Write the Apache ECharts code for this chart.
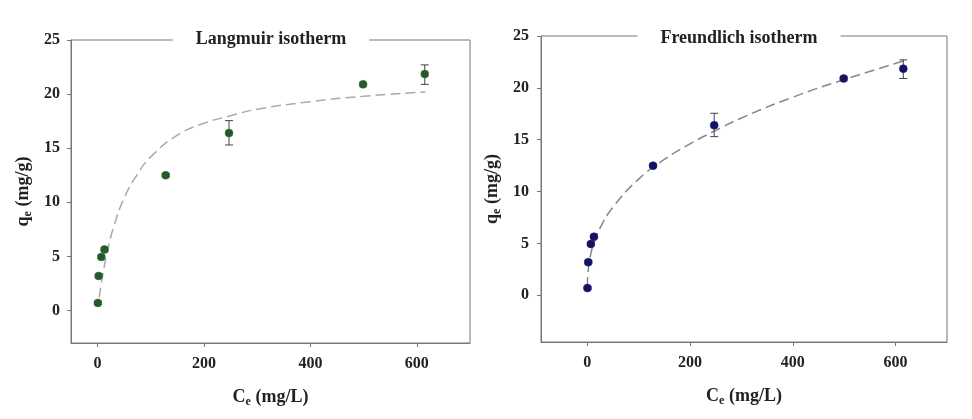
<!DOCTYPE html>
<html>
<head>
<meta charset="utf-8">
<script src="https://cdn.jsdelivr.net/npm/echarts@6/dist/echarts.min.js"></script>
<style>
html,body{margin:0;padding:0;background:#fff;}
#c{width:972px;height:419px;}
</style>
</head>
<body>
<div id="c"></div>
<script>
// Experimental data (same points in both panels)
const ceData = [0.5, 2, 7, 13, 128, 247, 499, 615];
const qeData = [0.7, 3.2, 4.95, 5.65, 12.5, 16.4, 20.9, 21.85];
const errLow = [0.55, 3.05, 4.8, 5.5, 12.35, 15.3, 20.75, 20.9];
const errHigh = [0.85, 3.35, 5.1, 5.8, 12.65, 17.55, 21.05, 22.7];

// Langmuir fitted curve
const langC = [3, 10, 20, 30, 50, 75, 100, 150, 200, 250, 300, 400, 500, 616];
const langQ = [1.2, 3.4, 5.8, 7.7, 10.4, 12.6, 14.2, 16.2, 17.3, 18.0, 18.6, 19.3, 19.8, 20.2];

// Freundlich fitted curve
const freC = [0.1, 0.3, 1, 3, 6, 12, 25, 50, 100, 150, 200, 250, 300, 400, 500, 616];
const freQ = [0.8, 1.2, 1.9, 2.9, 3.8, 4.9, 6.5, 8.5, 11.2, 13.1, 14.6, 15.9, 17.1, 19.1, 20.8, 22.6];

// Tick labels
const xTicks = [0, 200, 400, 600];
const yTicks = [0, 5, 10, 15, 20, 25];

const titles = ['Langmuir isotherm', 'Freundlich isotherm'];

const FONT = "'Liberation Serif','Times New Roman',serif";
const AX = '#777';

const chart = echarts.init(document.getElementById('c'));

function richName() {
  return { rich: {
    c: { fontSize: 18, fontWeight: 'bold', fontFamily: FONT, color: '#222', lineHeight: 22 },
    s: { fontSize: 12, fontWeight: 'bold', fontFamily: FONT, color: '#222', lineHeight: 12, verticalAlign: 'bottom' },
    n: { fontSize: 18, fontWeight: 'bold', fontFamily: FONT, color: '#222', lineHeight: 22 }
  }};
}

function xAxisCfg(idx, min) {
  return {
    type: 'value', gridIndex: idx, min: min, max: 700,
    name: '{c|C}{s|e}{n| (mg/L)}', nameLocation: 'middle', nameGap: 43,
    nameTextStyle: richName(),
    axisLine: { show: true, onZero: false, lineStyle: { color: AX, width: 1 } },
    axisTick: { show: true, length: 4, lineStyle: { color: AX }, customValues: xTicks },
    axisLabel: { customValues: xTicks, fontSize: 16, fontWeight: 'bold', fontFamily: FONT, color: '#222', margin: 13 },
    splitLine: { show: false }
  };
}
function yAxisCfg(idx, min, gap, lmargin) {
  return {
    type: 'value', gridIndex: idx, min: min, max: 25,
    name: '{c|q}{s|e}{n| (mg/g)}', nameLocation: 'middle', nameGap: gap, nameRotate: 90,
    nameTextStyle: richName(),
    axisLine: { show: true, onZero: false, lineStyle: { color: AX, width: 1 } },
    axisTick: { show: true, length: 4, lineStyle: { color: AX }, customValues: yTicks },
    axisLabel: { customValues: yTicks, fontSize: 16, fontWeight: 'bold', fontFamily: FONT, color: '#222', margin: lmargin },
    splitLine: { show: false }
  };
}

function errSeries(idx) {
  return {
    type: 'custom', xAxisIndex: idx, yAxisIndex: idx, z: 3,
    data: ceData.map((c, i) => [c, errLow[i], errHigh[i]]),
    renderItem: function (params, api) {
      const x = api.value(0);
      const lo = api.coord([x, api.value(1)]);
      const hi = api.coord([x, api.value(2)]);
      const w = 4;
      const st = { stroke: '#444', lineWidth: 1 };
      return { type: 'group', children: [
        { type: 'line', shape: { x1: lo[0], y1: lo[1], x2: hi[0], y2: hi[1] }, style: st },
        { type: 'line', shape: { x1: lo[0] - w, y1: lo[1], x2: lo[0] + w, y2: lo[1] }, style: st },
        { type: 'line', shape: { x1: hi[0] - w, y1: hi[1], x2: hi[0] + w, y2: hi[1] }, style: st }
      ]};
    }
  };
}

function titleCfg(text, x, y) {
  return {
    text: text, left: x, top: y, textAlign: 'center',
    backgroundColor: '#fff', padding: [2, 23],
    textStyle: { fontSize: 18, fontWeight: 'bold', fontFamily: FONT, color: '#222' }
  };
}

const option = {
  backgroundColor: '#fff',
  animation: false,
  title: [titleCfg(titles[0], 248, 28), titleCfg(titles[1], 716, 27)],
  grid: [
    { left: 71, top: 40, width: 399, height: 303, show: true, borderColor: AX, borderWidth: 1, backgroundColor: 'transparent' },
    { left: 541, top: 36, width: 406, height: 306, show: true, borderColor: AX, borderWidth: 1, backgroundColor: 'transparent' }
  ],
  xAxis: [xAxisCfg(0, -50), xAxisCfg(1, -90)],
  yAxis: [yAxisCfg(0, -3, 37, 11), yAxisCfg(1, -4.5, 38, 12)],
  series: [
    { type: 'line', xAxisIndex: 0, yAxisIndex: 0, data: langC.map((c, i) => [c, langQ[i]]),
      smooth: true, showSymbol: false, z: 2,
      lineStyle: { color: '#aaa', width: 1.5, type: [10, 5] } },
    errSeries(0),
    { type: 'scatter', xAxisIndex: 0, yAxisIndex: 0, data: ceData.map((c, i) => [c, qeData[i]]),
      symbolSize: 8, z: 4, itemStyle: { color: '#255a28', opacity: 1, borderColor: '#3a7a3e', borderWidth: 0.5 } },

    { type: 'line', xAxisIndex: 1, yAxisIndex: 1, data: freC.map((c, i) => [c, freQ[i]]),
      smooth: true, showSymbol: false, z: 2,
      lineStyle: { color: '#888', width: 1.5, type: [10, 5] } },
    errSeries(1),
    { type: 'scatter', xAxisIndex: 1, yAxisIndex: 1, data: ceData.map((c, i) => [c, qeData[i]]),
      symbolSize: 8, z: 4, itemStyle: { color: '#15135e', opacity: 1, borderColor: '#24248a', borderWidth: 0.5 } }
  ]
};
chart.setOption(option);
</script>
</body>
</html>
